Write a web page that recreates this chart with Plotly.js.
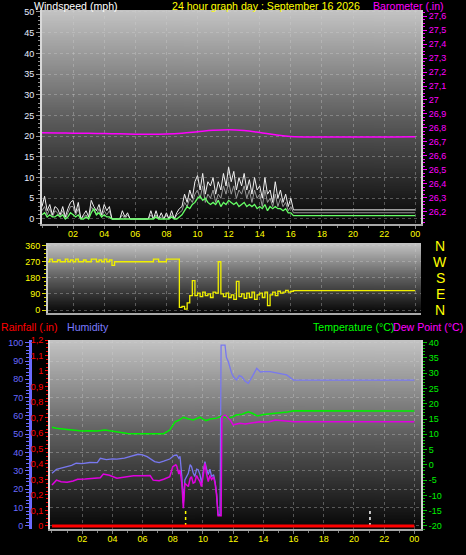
<!DOCTYPE html>
<html><head><meta charset="utf-8">
<script src="https://cdn.plot.ly/plotly-3.0.1.min.js"></script>
<style>html,body{margin:0;padding:0;background:#000;}#chart{width:466px;height:555px;}</style>
</head><body><div id="chart"></div>
<script>
// ---------- data ----------
const hourTicks  = [2,4,6,8,10,12,14,16,18,20,22,24];
const hourLabels = ['02','04','06','08','10','12','14','16','18','20','22','00'];

// wind, 10-minute samples from 00:00 to 16:10, then held value at 24:00
const windSampleMinutes = 10;
const windEndHour = 24;
const windGust = [3,5.5,2,3.5,1,3, 2.5,1,3,0.5,2.5,4, 4.5,1.5,4,0,1,2, 0.5,4.5,3,2,3.5,1,
  3.5,2,3,0,0,0, 0,2,0.5,1.5,0,0, 0,0,0,0,0,0, 2,0,2,0,1.5,0, 1.5,0,2,0,1.5,2.5,
  3,6,4,7,5,9, 10.5,7,11,6,9,8, 10,6,9,7,11,8, 12.5,9,11.5,7,10,8, 11,7,9.5,6,10,7,
  8,5,10,6,7,4, 9,5,7,4,6,3, 5,2.2, 2.2];
const windSpeed = [2,3,1,2.5,0.5,2, 1.5,0.5,2,0,1.5,3, 3,1,2.5,0,0.5,1, 0,3,2,1,2.5,0.5,
  2,1,2,0,0,0, 0,1,0,1,0,0, 0,0,0,0,0,0, 1,0,1,0,0.5,0, 1,0,1,0,1,1.5,
  2,4,3,5,4,6, 7,5,8,4,6,5, 7,4,6,5,8,6, 9,6,8,5,7,6, 8,5,7,4,7,5,
  6,3,7,4,5,3, 6,3,5,3,4,2, 3,1.5, 1.5];
const windAvg = [1,1.5,0.5,1,0.5,0.5, 1,0.5,1,0,0.5,1.5, 1,0.5,1,0,0,0.5, 0,1.5,2.5,1,1.5,0.5,
  1,0.5,0.5,0,0,0, 0,0,0,0,0,0, 0,0,0,0,0,0, 0,0,0.5,0,0,0, 0,0,0.5,0,0,0.5,
  1,2,3,2.5,3.5,4, 5,5.5,4.5,5,4,3.5, 4,3.5,4.5,3,4,3.5, 4.5,4,3.5,4,3,3.5, 4,3,3.5,3,3.5,2.5,
  3,2.5,3.5,2,3,2.5, 3,2.5,2.5,2,2.5,1.5, 1.5,0.8, 0.8];
const windDir = [280,270,270,285,270,270, 280,270,270,285,270,280, 270,285,270,270,280,270,
  270,285,285,270,280,270, 285,270,280,250,270,270, 270,270,270,270,270,270, 270,270,270,270,270,270,
  270,285,285,270,270,270, 285,285,285,285,285,15, 20,5,40,80,165,80, 95,75,100,80,90,70,
  100,95,270,90,75,95, 70,85,60,160,75,90, 65,95,70,100,60,85, 95,70,100,25,85,100,
  80,105,95,100,110,100, 105,108, 108];

const baroTimes  = [0,1,2,3,4,5,6,7,8,9,10,11,12,13,14,15,16,24];
const baroValues = [26.766,26.765,26.763,26.762,26.76,26.758,26.756,26.755,26.757,26.763,26.773,26.783,26.788,26.782,26.768,26.752,26.74,26.738];

const compassLabels = ['N','W','S','E','N'];
const compassDeg    = [360,270,180,90,0];

const humTimes  = [0,0.3,0.6,1,1.3,1.6,2,2.5,3,3.2,3.6,4,4.3,4.8,5.3,5.7,6,6.3,6.8,7.1,7.4,7.8,8.1,8.26,8.4,8.48,8.6,8.7,8.8,
  9.03,9.15,9.24,9.35,9.46,9.58,9.68,9.8,9.91,10.02,10.13,10.24,10.35,10.46,10.57,10.7,10.8,10.9,11,11.13,11.2,11.46,11.55,11.68,
  11.8,11.9,12.05,12.23,12.4,12.56,12.8,13,13.3,13.56,13.8,14,14.44,14.8,15.1,15.54,16,24];
const humValues = [28.7,30.9,31.5,32.4,33,34.2,34,34.6,34.5,36.9,36.2,36.6,36.4,37,38.2,39.1,38.8,37.8,35.1,34.5,35.3,36.5,38.5,38.7,36.9,38,26.9,12.4,25.1,
  28.7,33.5,32.4,29,26.9,31,30.6,28,23.3,30,35.1,31,28,31,26.9,28,24.2,17.8,6,6,98.7,98.7,92,89.6,
  86,83.3,81,79.6,82,81.5,79,77.8,82,86,84,84.2,84.2,83.5,83.3,82.4,79.6,79.6];

const dewTimes  = [0,0.3,0.6,1,1.4,1.7,2.2,2.8,3.2,3.4,3.8,4.3,4.8,5.4,6,6.5,6.7,7.1,7.4,7.8,8,8.2,8.26,8.4,8.48,8.6,8.7,8.8,
  9.03,9.15,9.24,9.35,9.46,9.58,9.68,9.8,9.9,10.02,10.13,10.24,10.35,10.46,10.57,10.7,10.8,10.9,11,11.2,11.25,11.46,11.6,11.8,
  12,12.2,12.45,12.8,13.1,13.4,13.75,14.1,14.4,14.8,15.2,15.8,16,24];
const dewValues = [-6.6,-5,-5.5,-5.7,-5.3,-4.7,-4.6,-4.4,-4.2,-3,-3.4,-4.4,-4,-3.6,-3.6,-3.5,-5,-5.2,-4.7,-3.9,-0.6,0,-0.4,-3,-1.7,-6,-14.2,-6,
  -7.1,-4.5,-3.9,-6,-5.7,-3.5,-4.5,-5.5,-7.1,-3,0.5,-3,-5.5,-3.5,-4.8,-4,-6,-9.9,-16.7,-16.7,15.8,16.3,15.5,14.7,
  13.1,13.3,13.6,13.4,13.6,13.9,14.1,14,14.1,14.7,14.5,14.4,14.1,14.1];

const tempTimes  = [0,0.3,1,1.5,2,2.5,3,3.5,4,4.5,5,5.5,6,6.5,7,7.4,7.8,8,8.15,8.4,8.7,9,9.35,9.6,9.8,10,10.2,10.5,10.9,
  11.25,11.5,11.7,12,12.2,12.6,13,13.3,13.6,14,14.4,14.8,15.3,15.6,16,24];
const tempValues = [12.3,12,11.6,11.3,11.1,11.2,11.1,11.4,11,10.5,10.3,10.2,10.2,10.1,10.1,10.2,11.4,12.8,14.1,14.6,15.6,15.1,14.7,15.2,15.6,15,14.5,15,15.3,
  16,15.6,15.3,15.8,16.3,16.6,17.4,16.8,16,16.5,16.7,16.9,17,17.3,17.7,17.6];

const rainTimes  = [0,24];
const rainValues = [0,0];

const markerTimes  = [8.85, 21.06];
const markerColors = ['#ffff00','#ffffff'];

const tempTicks = [-20,-15,-10,-5,0,5,10,15,20,25,30,35,40];

// ---------- build ----------
const windTimes = windGust.map((_, i) => i < windGust.length - 1 ? i * windSampleMinutes / 60 : windEndHour);

function gradientURI(top, mid, bottom) {
  const c = document.createElement('canvas'); c.width = 4; c.height = 256;
  const g = c.getContext('2d');
  const gr = g.createLinearGradient(0, 0, 0, 256);
  gr.addColorStop(0, top); gr.addColorStop(0.5, mid); gr.addColorStop(1, bottom);
  g.fillStyle = gr; g.fillRect(0, 0, 4, 256);
  return c.toDataURL();
}

const W = 466, H = 555;
const px = v => v / W, py = v => 1 - v / H;
const topDom = {x:[px(42), px(421)], y:[py(224), py(10)]};
const midDom = {x:[px(48), px(421)], y:[py(313), py(243)]};
const botDom = {x:[px(50), px(421)], y:[py(529), py(340)]};

const FONT = 'Liberation Sans, Arial, sans-serif';
const tickFont = c => ({family: FONT, size: 9, color: c});
const HEAD = 10.6;

const traces = [
  {x: windTimes, y: windSpeed, xaxis:'x', yaxis:'y', mode:'lines', line:{color:'#9a9a9a', width:1}, hoverinfo:'skip'},
  {x: windTimes, y: windGust, xaxis:'x', yaxis:'y', mode:'lines', line:{color:'#f0f0f0', width:1}, hoverinfo:'skip'},
  {x: windTimes, y: windAvg, xaxis:'x', yaxis:'y', mode:'lines', line:{color:'#66ff66', width:1.3}, hoverinfo:'skip'},
  {x: baroTimes, y: baroValues, xaxis:'x', yaxis:'y2', mode:'lines', line:{color:'#ff00ff', width:1.5, shape:'spline'}, hoverinfo:'skip'},
  {x: windTimes, y: windDir, xaxis:'x2', yaxis:'y3', mode:'lines', line:{color:'#f0f000', width:1.3, shape:'hv'}, hoverinfo:'skip'},
  {x: humTimes, y: humValues, xaxis:'x3', yaxis:'y5', mode:'lines', line:{color:'#7878f0', width:1.3}, hoverinfo:'skip'},
  {x: tempTimes, y: tempValues, xaxis:'x3', yaxis:'y6', mode:'lines', line:{color:'#00f000', width:1.5}, hoverinfo:'skip'},
  {x: dewTimes, y: dewValues, xaxis:'x3', yaxis:'y6', mode:'lines', line:{color:'#e000e0', width:1.5}, hoverinfo:'skip'},
];
markerTimes.forEach((t, i) => traces.push({x:[t, t], y:[0, 0.1], xaxis:'x3', yaxis:'y4', mode:'lines',
  line:{color: markerColors[i], width:1.5, dash:'dot'}, hoverinfo:'skip'}));
traces.push({x: rainTimes, y: rainValues, xaxis:'x3', yaxis:'y4', mode:'lines', line:{color:'#ff0000', width:3}, hoverinfo:'skip'});

const gridCol = 'rgba(210,210,210,0.35)';
const xCommon = {
  tickvals: hourTicks, ticktext: hourLabels, tickfont: tickFont('#ffff00'),
  ticks: 'outside', ticklen: 3, tickcolor: '#808080', ticklabelstandoff: -3,
  minor: {dtick: 1, ticks: 'outside', ticklen: 2, tickcolor: '#808080', showgrid: false},
  showgrid: true, gridcolor: gridCol, griddash: 'dot', gridwidth: 1,
  showline: true, linecolor: '#a8a8a8', linewidth: 2, zeroline: false, fixedrange: true
};

const layout = {
  width: W, height: H, autosize: false,
  margin: {l:0, r:0, t:0, b:0, pad:0},
  paper_bgcolor: '#000', plot_bgcolor: 'rgba(0,0,0,0)',
  showlegend: false, separators: ',.',
  font: {family: FONT},
  xaxis: Object.assign({}, xCommon, {domain: topDom.x, anchor: 'y', range: [0, 24.37]}),
  xaxis2: Object.assign({}, xCommon, {domain: midDom.x, anchor: 'y3', range: [0.386, 24.37], showticklabels: false, ticks: '', minor: {showgrid:false}}),
  xaxis3: Object.assign({}, xCommon, {domain: botDom.x, anchor: 'y4', range: [-0.132, 24.44]}),
  yaxis: {domain: topDom.y, anchor: 'x', range: [-1.21, 50.48], dtick: 5, tick0: 0,
    tickfont: tickFont('#e8eeff'), ticks: 'outside', ticklen: 4, tickcolor: '#909090',
    minor: {dtick: 1, ticks: 'outside', ticklen: 2, tickcolor: '#909090', showgrid: false},
    showgrid: true, gridcolor: gridCol, griddash: 'dot', zeroline: false,
    showline: true, linecolor: '#d8d8d8', linewidth: 2, fixedrange: true},
  yaxis2: {overlaying: 'y', anchor: 'x', side: 'right', range: [26.114, 27.643], dtick: 0.1, tick0: 26.2,
    tickfont: tickFont('#ff00ff'), ticks: 'outside', ticklen: 4, tickcolor: '#ff00ff',
    minor: {dtick: 0.025, ticks: 'outside', ticklen: 2, tickcolor: '#ff00ff', showgrid: false},
    showgrid: false, zeroline: false, showline: true, linecolor: '#d0d0d0', linewidth: 2, fixedrange: true},
  yaxis3: {domain: midDom.y, anchor: 'x2', range: [-16.8, 375.1], tickvals: [0,90,180,270,360],
    tickfont: tickFont('#ffff00'), ticks: 'outside', ticklen: 4, tickcolor: '#d8d800',
    minor: {dtick: 22.5, ticks: 'outside', ticklen: 2, tickcolor: '#d8d800', showgrid: false},
    showgrid: true, gridcolor: gridCol, griddash: 'dot', zeroline: false,
    showline: true, linecolor: '#c8c8c8', linewidth: 2, fixedrange: true},
  yaxis4: {domain: botDom.y, anchor: 'x3', range: [-0.02, 1.2], dtick: 0.1, tick0: 0,
    tickfont: tickFont('#ff0000'), ticks: 'outside', ticklen: 3, tickcolor: '#ff0000',
    minor: {dtick: 0.025, ticks: 'outside', ticklen: 2, tickcolor: '#ff0000', showgrid: false},
    showgrid: false, zeroline: false, showline: true, linecolor: '#e0e0e0', linewidth: 2, fixedrange: true},
  yaxis5: {overlaying: 'y4', side: 'left', anchor: 'free', position: px(30), range: [-1.7, 101.47], dtick: 10, tick0: 0,
    tickfont: tickFont('#6a6aff'), ticks: 'outside', ticklen: 4, tickcolor: '#6a6aff',
    minor: {dtick: 2, ticks: 'outside', ticklen: 3, tickcolor: '#6a6aff', showgrid: false},
    showgrid: true, gridcolor: gridCol, griddash: 'dot', zeroline: false,
    showline: true, linecolor: '#6a6aff', linewidth: 3, fixedrange: true},
  yaxis6: {overlaying: 'y4', side: 'right', anchor: 'x3', range: [-21.0, 40.88],
    tickvals: tempTicks, ticktext: tempTicks.map(String),
    tickfont: tickFont('#00f000'), ticks: 'outside', ticklen: 4, tickcolor: '#00c000',
    minor: {dtick: 1, ticks: 'outside', ticklen: 2, tickcolor: '#00c000', showgrid: false},
    showgrid: false, zeroline: false, showline: true, linecolor: '#d0d0d0', linewidth: 2, fixedrange: true},
  images: [topDom, midDom, botDom].map(d => ({
    source: gradientURI('#c4c4c4', '#5e5e5e', '#060606'),
    xref: 'paper', yref: 'paper', x: d.x[0], y: d.y[1], sizex: d.x[1] - d.x[0], sizey: d.y[1] - d.y[0],
    xanchor: 'left', yanchor: 'top', sizing: 'stretch', layer: 'below'
  })),
  annotations: [
    {text: 'Windspeed (mph)', x: px(33), y: py(5.5), xanchor: 'left', font: {color: '#ffffff'}},
    {text: '24 hour graph day : September 16 2026', x: px(266), y: py(5.5), xanchor: 'center', font: {color: '#ffff00'}},
    {text: 'Barometer (.in)', x: px(372), y: py(5.5), xanchor: 'left', font: {color: '#ff00ff'}},
    {text: 'Rainfall (.in)', x: px(0), y: py(327), xanchor: 'left', font: {color: '#ff0000'}},
    {text: 'Humidity', x: px(66), y: py(327), xanchor: 'left', font: {color: '#7b7bff'}},
    {text: 'Temperature (°C)', x: px(312), y: py(327), xanchor: 'left', font: {color: '#00ff00'}},
    {text: 'Dew Point (°C)', x: px(392), y: py(327), xanchor: 'left', font: {color: '#ff00ff'}},
  ].map(a => Object.assign({xref: 'paper', yref: 'paper', yanchor: 'middle', showarrow: false, borderpad: 0}, a,
      {font: Object.assign({family: FONT, size: HEAD}, a.font)}))
  .concat(compassLabels.map((lab, i) => ({text: lab, xref: 'paper', yref: 'y3', x: px(440), y: compassDeg[i],
    xanchor: 'center', yanchor: 'middle', showarrow: false, font: {family: FONT, size: 14, color: '#ffff00'}})))
};

Plotly.newPlot('chart', traces, layout, {staticPlot: true, displayModeBar: false});
</script>
</body></html>
